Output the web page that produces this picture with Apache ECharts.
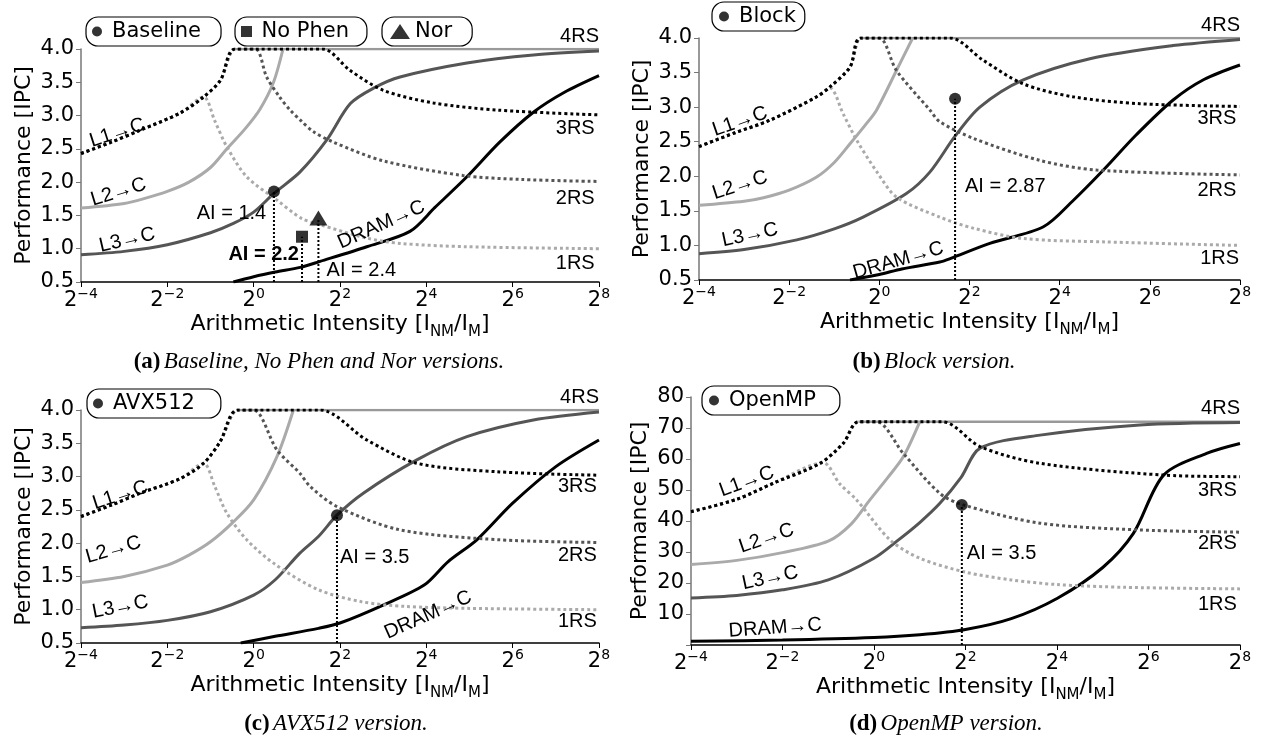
<!DOCTYPE html>
<html>
<head>
<meta charset="utf-8">
<script src="https://cdn.jsdelivr.net/npm/echarts/dist/echarts.min.js"></script>
<style>html,body{margin:0;background:#fff}#main{width:1261px;height:742px}</style>
</head>
<body>
<div id="main"></div>
<script>
// x values are log2 of the arithmetic intensity, y values are IPC
const xTicks = [-4, -2, 0, 2, 4, 6, 8];

// (a) Baseline / No Phen / Nor
const aL2   = [[-4,1.61],[-3,1.68],[-2.5,1.76],[-2,1.86],[-1.5,2.0],[-1,2.22],[-0.62,2.5],[-0.2,2.8],[0.15,3.1],[0.46,3.5],[0.68,4.0]];
const aL3   = [[-4,0.91],[-3,0.96],[-2,1.06],[-1,1.24],[-0.47,1.38],[0,1.55],[0.47,1.83],[1.07,2.15],[1.69,2.63],[2.24,3.18],[2.8,3.42],[3.39,3.58],[4.94,3.79],[6.48,3.91],[8,3.97]];
const aDRAM = [[-0.47,0.5],[0,0.58],[0.5,0.65],[1.08,0.72],[1.54,0.81],[2.62,1.03],[3.62,1.26],[4.2,1.62],[4.94,2.08],[5.7,2.6],[6.48,3.05],[7.2,3.35],[8,3.6]];
const a1RS  = [[-4,2.43],[-3.3,2.6],[-2.63,2.78],[-1.7,3.04],[-1.16,3.28],[-0.9,2.92],[-0.62,2.53],[-0.16,2.08],[0.54,1.73],[1.1,1.46],[1.54,1.36],[2.62,1.16],[3.39,1.08],[4.94,1.03],[8,1.0]];
const a2RS  = [[-4,2.43],[-3.3,2.6],[-2.63,2.78],[-1.7,3.04],[-1.16,3.28],[-0.77,3.53],[-0.43,4.0],[0.04,4.0],[0.3,3.58],[0.6,3.28],[0.85,3.08],[1.1,2.92],[1.38,2.76],[1.85,2.6],[3.0,2.32],[4.85,2.1],[6.2,2.04],[8,2.01]];
const a3RS  = [[-4,2.43],[-3.3,2.6],[-2.63,2.78],[-1.7,3.04],[-1.16,3.28],[-0.77,3.53],[-0.43,4.0],[1.6,4.0],[2.23,3.68],[3.0,3.38],[4.16,3.19],[5.7,3.08],[8,3.01]];
const a4RS  = [[-0.43,4.0],[8,4.0]];
const ptBaseline = [0.47, 1.86];
const ptNoPhen   = [1.12, 1.18];
const ptNor      = [1.5, 1.46];

// (b) Block
const bL2   = [[-4,1.58],[-3,1.64],[-2.57,1.69],[-2,1.8],[-1.39,1.99],[-1,2.2],[-0.65,2.47],[-0.3,2.75],[-0.06,2.96],[0.38,3.53],[0.74,4.0]];
const bL3   = [[-4,0.88],[-3,0.94],[-1.83,1.08],[-1,1.24],[-0.36,1.41],[0.6,1.75],[1.12,2.06],[1.68,2.58],[2.23,3.0],[3.18,3.39],[4.67,3.7],[6.51,3.89],[8,3.98]];
const bDRAM = [[-0.65,0.5],[0,0.58],[0.5,0.66],[1.34,0.76],[1.57,0.81],[2.45,1.03],[3.64,1.27],[4.3,1.65],[4.97,2.09],[5.7,2.6],[6.51,3.1],[7.2,3.4],[8,3.61]];
const b1RS  = [[-4,2.43],[-3.2,2.63],[-2.43,2.81],[-1.39,3.15],[-1.1,3.28],[-0.8,2.9],[-0.5,2.52],[-0.05,2.06],[0.38,1.7],[1.34,1.41],[2.08,1.25],[3.19,1.1],[5.04,1.05],[8,1.0]];
const b2RS  = [[-4,2.43],[-3.2,2.63],[-2.43,2.81],[-1.39,3.15],[-1.1,3.29],[-0.65,3.58],[-0.41,4.0],[0.0,4.0],[0.38,3.53],[1.12,2.96],[1.34,2.79],[2.08,2.55],[3.56,2.23],[4.82,2.09],[8,2.02]];
const b3RS  = [[-4,2.43],[-3.2,2.63],[-2.43,2.81],[-1.39,3.15],[-1.1,3.29],[-0.65,3.58],[-0.41,4.0],[1.57,4.0],[2.3,3.68],[3.18,3.34],[4.29,3.15],[5.78,3.05],[8,3.01]];
const b4RS  = [[-0.41,4.0],[8,4.0]];
const ptBlock = [1.68, 3.12];

// (c) AVX512
const cL2   = [[-4,1.41],[-3,1.5],[-2,1.67],[-1.5,1.82],[-1,2.02],[-0.5,2.3],[0,2.65],[0.54,3.3],[0.92,4.0]];
const cL3   = [[-4,0.73],[-3,0.77],[-2,0.84],[-1,0.97],[0,1.22],[0.5,1.45],[1.07,1.85],[1.5,2.1],[1.93,2.42],[2.54,2.75],[3.78,3.25],[4.94,3.6],[6.48,3.85],[8,3.97]];
const cDRAM = [[-0.3,0.5],[0.5,0.6],[1.5,0.72],[2,0.8],[3,1.07],[3.95,1.37],[4.5,1.72],[5.17,2.05],[6,2.6],[7,3.15],[8,3.55]];
const c1RS  = [[-4,2.4],[-3.3,2.57],[-2.63,2.75],[-1.7,2.97],[-1.16,3.2],[-0.9,2.85],[-0.62,2.45],[-0.16,2.05],[0.5,1.68],[1.5,1.3],[2.5,1.12],[3.5,1.05],[5,1.02],[8,1.0]];
const c2RS  = [[-4,2.4],[-3.3,2.57],[-2.63,2.75],[-1.7,2.97],[-1.16,3.2],[-0.78,3.52],[-0.37,4.0],[0,4.0],[0.54,3.4],[1.07,3.05],[1.31,2.85],[1.93,2.55],[3.39,2.2],[5.7,2.05],[8,2.01]];
const c3RS  = [[-4,2.4],[-3.3,2.57],[-2.63,2.75],[-1.7,2.97],[-1.16,3.2],[-0.78,3.52],[-0.37,4.0],[1.54,4.0],[2.62,3.55],[3.78,3.2],[5.7,3.07],[8,3.02]];
const c4RS  = [[-0.37,4.0],[8,4.0]];
const ptAVX = [1.93, 2.42];

// (d) OpenMP
const dL2   = [[-4,26],[-3,27.3],[-2,29.8],[-1,33.5],[-0.5,39],[-0.09,46.8],[0.3,54],[0.64,60.7],[1.0,72]];
const dL3   = [[-4,15.2],[-3,16],[-2,17.8],[-1,21],[0,28],[0.5,33.5],[1,39.5],[1.44,45.7],[1.9,54],[2.32,63.5],[3.63,67.7],[5.81,71],[8,71.8]];
const dDRAM = [[-4,1.2],[-2,1.6],[0,2.4],[1,3.3],[2,5],[3,8.5],[4,15],[5,25],[5.67,36],[6.33,54.8],[7.27,61.8],[8,65]];
const d1RS  = [[-4,43],[-3,47],[-2.2,52.2],[-1.11,58.8],[-0.75,52],[-0.38,46.8],[0.35,33.9],[1,28],[2,23.5],[3,21],[4,19.5],[5.5,18.6],[8,18.1]];
const d2RS  = [[-4,43],[-3,47],[-2.2,52.2],[-1.18,58.6],[-0.67,65.1],[-0.34,72],[0.06,72],[0.64,61.8],[1.44,48.9],[1.95,45.2],[3.63,39.3],[5.81,37.1],[8,36.4]];
const d3RS  = [[-4,43],[-3,47],[-2.2,52.2],[-1.18,58.6],[-0.67,65.1],[-0.34,72],[1.5,72],[2.32,64],[3.63,58.6],[6.33,54.8],[8,54.3]];
const d4RS  = [[-0.34,72],[8,72]];
const ptOpenMP = [1.92, 45.2];

// text notes: [text, x, y, rotate, align, weight]
const aNotes = [['L1→C',-3.16,2.74,18,'center'],['L2→C',-3.13,1.85,17,'center'],['L3→C',-2.93,1.13,13,'center'],['DRAM→C',2.96,1.36,24,'center'],
  ['3RS',7.9,2.81,0,'right'],['2RS',7.9,1.76,0,'right'],['1RS',7.9,0.78,0,'right'],
  ['AI = 1.4',0.29,1.53,0,'right'],['AI = 2.2',1.05,0.91,0,'right','bold'],['AI = 2.4',1.69,0.68,0,'left']];
const bNotes = [['L1→C',-3.09,2.79,19,'center'],['L2→C',-3.09,1.87,18,'center'],['L3→C',-2.87,1.15,12,'center'],['DRAM→C',0.42,0.78,16,'center'],
  ['3RS',7.92,2.84,0,'right'],['2RS',7.92,1.8,0,'right'],['1RS',7.98,0.81,0,'right'],['AI = 2.87',1.9,1.85,0,'left']];
const cNotes = [['L1→C',-3.09,2.72,18,'center'],['L2→C',-3.25,1.9,16,'center'],['L3→C',-3.09,1.04,11,'center'],['DRAM→C',4.04,0.92,24,'center'],
  ['3RS',7.95,2.85,0,'right'],['2RS',7.95,1.82,0,'right'],['1RS',7.95,0.82,0,'right'],['AI = 3.5',2.0,1.78,0,'left']];
const dNotes = [['L1→C',-2.78,52.7,20,'center'],['L2→C',-2.35,34.4,19,'center'],['L3→C',-2.27,21.6,12,'center'],['DRAM→C',-2.16,5.5,4,'center'],
  ['3RS',7.93,50,0,'right'],['2RS',7.93,32.8,0,'right'],['1RS',7.93,13,0,'right'],['AI = 3.5',2.03,29.6,0,'left']];

const SANS = 'DejaVu Sans';
const ARIAL = 'Liberation Sans';

function curve(g, data, color, width, dash, z) {
  return { type: 'line', xAxisIndex: g, yAxisIndex: g, data: data, symbol: 'none', silent: true,
    smooth: 0.3, z: z || 2,
    lineStyle: { color: color, width: width, type: dash || 'solid', cap: 'butt' } };
}
function topLine(g, data) {
  const s = curve(g, data, '#999', 2.5, 'solid', 1);
  s.smooth = false;
  s.markPoint = { symbolSize: 0, silent: true, data: [{ coord: data[data.length - 1] }],
    label: { show: true, formatter: '4RS', position: 'inside', align: 'right', verticalAlign: 'bottom', offset: [0, -3],
      fontFamily: ARIAL, fontSize: 20, color: '#000' } };
  return s;
}
function drop(g, pt, ymin) {
  return { type: 'line', xAxisIndex: g, yAxisIndex: g, data: [[pt[0], ymin], pt], symbol: 'none', silent: true, z: 5,
    lineStyle: { color: '#000', width: 2, type: [2, 2] } };
}
function point(g, name, pt, symbol, size, keep) {
  return { type: 'scatter', name: name, xAxisIndex: g, yAxisIndex: g, data: [pt], symbol: symbol, symbolSize: size,
    symbolKeepAspect: keep, itemStyle: { color: '#000' }, z: 6, silent: true };
}
function notes(g, list) {
  return { type: 'scatter', xAxisIndex: g, yAxisIndex: g, symbolSize: 0, silent: true, z: 10,
    itemStyle: { color: '#000', opacity: 1 },
    data: list.map(n => ({ value: [n[1], n[2]], name: n[0], label: { rotate: n[3], align: n[4], fontWeight: n[5] || 'normal' } })),
    label: { show: true, position: [0, 0], formatter: '{b}', fontFamily: ARIAL, fontSize: 20, color: '#000',
      opacity: 1, textBorderWidth: 0, verticalAlign: 'middle' } };
}
function panel(g, L2, L3, DRAM, r1, r2, r3, r4) {
  return [
    topLine(g, r4),
    curve(g, L2, '#aaa', 3),
    curve(g, L3, '#555', 3),
    curve(g, DRAM, '#000', 3),
    curve(g, r1, '#aaa', 3, [3, 3], 3),
    curve(g, r2, '#555', 3, [3, 3], 3),
    curve(g, r3, '#000', 3, [3, 3], 3)
  ];
}

function xAx(g) {
  return { type: 'value', gridIndex: g, min: -4, max: 8, interval: 2,
    name: '{n|Arithmetic Intensity [I}{sub|NM}{n|/I}{sub|M}{n|]}', nameLocation: 'middle', nameGap: 31,
    nameTextStyle: { rich: {
      n: { fontFamily: SANS, fontSize: 22, color: '#000', lineHeight: 27, verticalAlign: 'top' },
      sub: { fontFamily: SANS, fontSize: 15, color: '#000', lineHeight: 15, verticalAlign: 'bottom' } } },
    axisLine: { onZero: false, lineStyle: { color: '#000', width: 1.5 } },
    axisTick: { show: true, length: 5, lineStyle: { color: '#000' } },
    splitLine: { show: false },
    axisLabel: { margin: 5, formatter: v => '{b|2}{s|' + (v < 0 ? '\u2212' + (-v) : v) + '}',
      rich: { b: { fontFamily: SANS, fontSize: 21, color: '#000', lineHeight: 24, verticalAlign: 'bottom' },
              s: { fontFamily: SANS, fontSize: 14, color: '#000', lineHeight: 14, verticalAlign: 'top' } } } };
}
function yAx(g, min, max, step, fmt, gap) {
  return { type: 'value', gridIndex: g, min: min, max: max, interval: step,
    name: 'Performance [IPC]', nameLocation: 'middle', nameGap: gap,
    nameTextStyle: { fontFamily: SANS, fontSize: 22, color: '#000' },
    axisLine: { show: true, onZero: false, lineStyle: { color: '#777', width: 1.5 } },
    axisTick: { show: true, length: 5, lineStyle: { color: '#777' } },
    splitLine: { show: false },
    axisLabel: { margin: 7, fontFamily: SANS, fontSize: 21, color: '#000', formatter: fmt } };
}
function legendBox(name, left, top, pad, iw, ih, icon) {
  return { data: [icon ? { name: name, icon: icon } : name], left: left, top: top, padding: pad,
    itemWidth: iw, itemHeight: ih, itemGap: 0, symbolKeepAspect: true,
    selectedMode: false, borderColor: '#000', borderWidth: 1.2, borderRadius: 12,
    textStyle: { fontFamily: SANS, fontSize: 21, color: '#000', lineHeight: 21 } };
}
function caption(x, y, tag, text) {
  return { type: 'text', x: x, y: y, silent: true,
    style: { text: '{b|' + tag + '} {i|' + text + '}', align: 'center', verticalAlign: 'middle',
      rich: { b: { fontFamily: 'Liberation Serif', fontWeight: 'bold', fontSize: 23, fill: '#000' },
              i: { fontFamily: 'Liberation Serif', fontStyle: 'italic', fontSize: 23, fill: '#000' } } } };
}

const f1 = v => v.toFixed(1);
const fd = v => v === 0 ? '' : String(v);

const option = {
  backgroundColor: '#fff',
  animation: false,
  grid: [
    { left: 81, right: 662, top: 49, bottom: 460, outerBoundsMode: 'none' },
    { left: 699, right: 21, top: 38, bottom: 462, outerBoundsMode: 'none' },
    { left: 81, right: 662, top: 410, bottom: 99, outerBoundsMode: 'none' },
    { left: 691, right: 21, top: 397, bottom: 97, outerBoundsMode: 'none' }
  ],
  xAxis: [xAx(0), xAx(1), xAx(2), xAx(3)],
  yAxis: [yAx(0, 0.5, 4, 0.5, f1, 46), yAx(1, 0.5, 4, 0.5, f1, 46), yAx(2, 0.5, 4, 0.5, f1, 46), yAx(3, 0, 80, 10, fd, 40)],
  legend: [
    legendBox('Baseline', 86, 17, [4, 20, 4, 6], 20, 10),
    legendBox('No Phen', 235, 17, [4, 18, 4, 6], 20, 11, 'path://M0,0H10V10H0Z'),
    legendBox('Nor', 382, 17, [4, 20, 4, 8], 20, 15),
    legendBox('Block', 712, 2, [4, 9, 4, 7], 20, 10),
    legendBox('AVX512', 87, 389, [4, 26, 4, 6], 20, 10),
    legendBox('OpenMP', 702, 386, [4, 24, 4, 7], 20, 10)
  ],
  graphic: [
    caption(319, 362, '(a)', 'Baseline, No Phen and Nor versions.'),
    caption(934, 362, '(b)', 'Block version.'),
    caption(336, 724, '(c)', 'AVX512 version.'),
    caption(946, 724, '(d)', 'OpenMP version.')
  ],
  series: [].concat(
    panel(0, aL2, aL3, aDRAM, a1RS, a2RS, a3RS, a4RS),
    panel(1, bL2, bL3, bDRAM, b1RS, b2RS, b3RS, b4RS),
    panel(2, cL2, cL3, cDRAM, c1RS, c2RS, c3RS, c4RS),
    panel(3, dL2, dL3, dDRAM, d1RS, d2RS, d3RS, d4RS),
    [
      drop(0, ptBaseline, 0.5), drop(0, ptNoPhen, 0.5), drop(0, ptNor, 0.5),
      drop(1, ptBlock, 0.5), drop(2, ptAVX, 0.5), drop(3, ptOpenMP, 0),
      point(0, 'Baseline', ptBaseline, 'circle', 12, true),
      point(0, 'No Phen', ptNoPhen, 'rect', 12, true),
      point(0, 'Nor', ptNor, 'triangle', [18, 15], false),
      point(1, 'Block', ptBlock, 'circle', 12, true),
      point(2, 'AVX512', ptAVX, 'circle', 12, true),
      point(3, 'OpenMP', ptOpenMP, 'circle', 12, true),
      notes(0, aNotes), notes(1, bNotes), notes(2, cNotes), notes(3, dNotes)
    ]
  )
};

const chart = echarts.init(document.getElementById('main'), null, { renderer: 'canvas' });
chart.setOption(option);
window.onresize = () => chart.resize();
</script>
</body>
</html>
